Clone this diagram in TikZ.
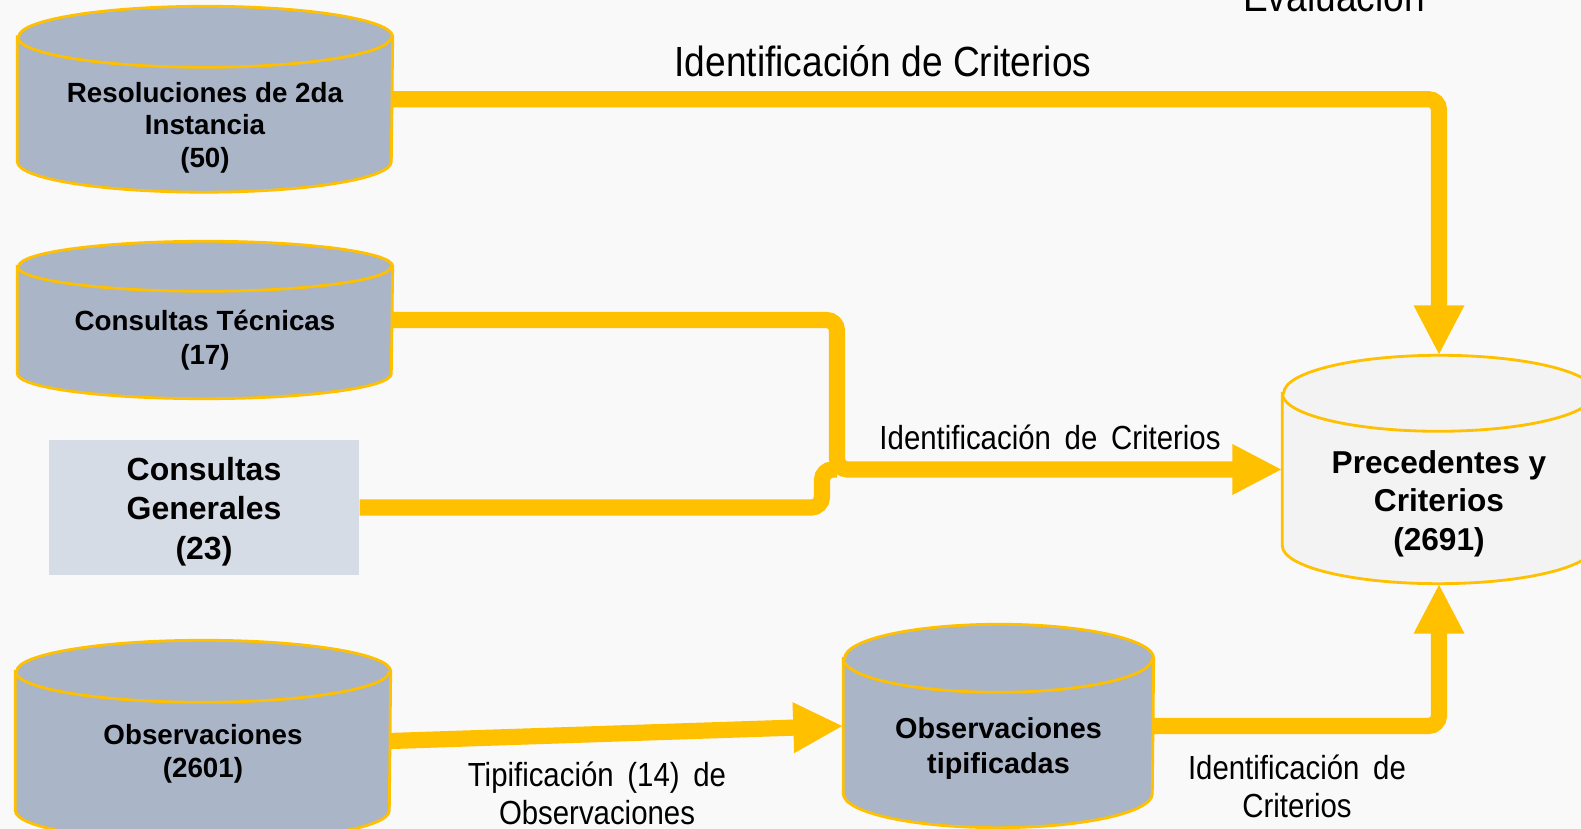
\documentclass[tikz,border=0pt]{standalone}
\usepackage{fontspec}
\setmainfont{Liberation Sans}
\newfontfamily\narrow[FakeStretch=0.88]{Liberation Sans}
\usetikzlibrary{positioning, arrows.meta, backgrounds}

\definecolor{gold}{HTML}{FFC000}
\definecolor{slate}{HTML}{ABB5C8}
\definecolor{pale}{HTML}{D6DCE5}
\definecolor{paper}{HTML}{FAF9FA}
\definecolor{light}{HTML}{F3F3F3}

% drum outline round a body node: name, x radius, y radius, fill
\newcommand\drum[4]{%
  \filldraw[draw=gold, line width=0.8pt, fill=#4] (#1.north west) -- (#1.south west)
    arc[start angle=180, end angle=360, x radius=#2, y radius=#3] -- (#1.north east)
    arc[start angle=0, end angle=180, x radius=#2, y radius=#3] -- cycle;
  \draw[gold, line width=0.8pt] (#1.north west)
    arc[start angle=180, end angle=360, x radius=#2, y radius=#3];}

\begin{document}
\begin{tikzpicture}[
  db/.style={rectangle, inner sep=0pt},
  dbtext/.style={font=\bfseries\fontsize{7.9}{9.3}\selectfont, align=center},
  flow/.style={draw=gold, line width=4.6pt, rounded corners=3pt, -{Triangle[length=0.5cm,width=0.47cm]}},
  flowline/.style={draw=gold, line width=4.6pt, rounded corners=3pt},
  lbl/.style={font=\narrow\fontsize{9.5}{10.8}\selectfont, align=center}
]

\useasboundingbox (0,0) rectangle (15.81,8.29);

% sources
\node[db, minimum width=3.74cm, minimum height=1.235cm,
  label={[dbtext, yshift=-2.85mm]center:{Resoluciones de 2da\\Instancia\\(50)}}] (res) at (2.05,7.2975) {};
\node[db, minimum width=3.74cm, minimum height=1.06cm,
  label={[dbtext, font=\bfseries\fontsize{7.9}{9.7}\selectfont, yshift=-2.0mm]center:{Consultas Técnicas\\(17)}}] (tec) at (2.05,5.09) {};
\node[db, fill=pale, minimum width=3.10cm, minimum height=1.35cm,
  label={[dbtext, font=\bfseries\fontsize{9.1}{11.2}\selectfont, yshift=-0.4mm]center:{Consultas\\Generales\\(23)}}] (gen) at (2.04,3.215) {};
\node[db, minimum width=3.74cm, minimum height=1.38cm,
  label={[dbtext, yshift=-1.25mm]center:{Observaciones\\(2601)}}] (obs) at (2.03,0.88) {};

% typified observations
\node[db, minimum width=3.09cm, minimum height=1.34cm,
  label={[dbtext, font=\bfseries\fontsize{8.2}{10}\selectfont, yshift=-2.25mm]center:{Observaciones\\tipificadas}}] (tip) at (9.985,1.03) {};

% target
\node[db, minimum width=3.12cm, minimum height=1.51cm,
  label={[dbtext, font=\bfseries\fontsize{9}{11}\selectfont, yshift=-3.4mm]center:{Precedentes y\\Criterios\\(2691)}}] (prec) at (14.39,3.595) {};

\begin{scope}[on background layer]
\fill[paper] (0,0) rectangle (15.81,8.29);
\drum{res}{1.87cm}{0.305cm}{slate}
\drum{tec}{1.87cm}{0.25cm}{slate}
\drum{obs}{1.87cm}{0.31cm}{slate}
\drum{tip}{1.545cm}{0.34cm}{slate}
\drum{prec}{1.56cm}{0.38cm}{light}
\end{scope}

\coordinate (join) at (8.37,3.595);

% flows
\draw[flow] (res.east) -| ([yshift=0.38cm]prec.north);
\draw[flowline] (gen.east) -| ([xshift=-1.5mm]join) -- (join);
\draw[flow] (tec.east) -| (join) -- (prec.west);
\draw[flow] (obs.east) -- (tip.west);
\draw[flow] (tip.east) -| ([yshift=-0.38cm]prec.south);

% labels
\node[lbl, font=\narrow\fontsize{12}{14}\selectfont, anchor=base] (eval) at (13.34,8.17) {Evaluación};
\node[lbl, font=\narrow\fontsize{12}{14}\selectfont] (crit1) at (8.83,7.68) {Identificación de Criterios};
\node[lbl] (crit2) at (10.50,3.92) {Identificación\, de\, Criterios};
\node[lbl] (typ) at (5.97,0.36) {Tipificación\, (14)\, de\\Observaciones};
\node[lbl] (crit3) at (12.97,0.425) {Identificación\, de\\Criterios};

\end{tikzpicture}
\end{document}
